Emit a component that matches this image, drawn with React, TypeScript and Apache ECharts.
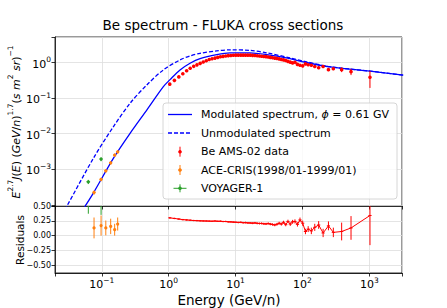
import React, { useEffect, useRef } from 'react';
import * as echarts from 'echarts';

// ---- Model curves ----
const modE = [0.05, 0.0563, 0.0748, 0.149, 0.265, 0.471, 0.834, 1.05, 1.48, 2.09, 2.95, 5.24, 8.27, 16.5, 29.3, 65.3, 103, 259, 1024, 3222];
const modJ = [6.5e-5, 9.1e-5, 2.14e-4, 2.03e-3, 1.03e-2, 0.0465, 0.211, 0.332, 0.623, 0.962, 1.30, 1.68, 1.88, 1.88, 1.68, 1.30, 1.05, 0.757, 0.573, 0.442];
const unmodE = [0.028, 0.030, 0.0748, 0.149, 0.265, 0.471, 0.834, 1.48, 2.09, 2.95, 5.24, 8.27, 16.5, 29.3, 65.3, 103, 259, 1024, 3222];
const unmodJ = [7.2e-5, 9.1e-5, 2.03e-3, 0.0157, 0.0718, 0.235, 0.623, 1.19, 1.54, 1.82, 2.14, 2.28, 2.21, 1.88, 1.36, 1.10, 0.767, 0.576, 0.444];

// ---- AMS-02 Be data ----
const amsE = [1.04, 1.22, 1.42, 1.63, 1.86, 2.10, 2.37, 2.65, 2.96, 3.29, 3.65, 4.04, 4.46, 4.93, 5.42, 5.95, 6.52, 7.13, 7.80, 8.51, 9.28, 10.1, 11.0, 12.0, 13.0, 14.1, 15.3, 16.6, 18.0, 19.5, 21.1, 22.8, 24.6, 26.5, 28.6, 30.8, 33.2, 35.8, 38.6, 41.6, 44.9, 48.4, 52.2, 56.3, 60.8, 65.8, 71.3, 77.4, 84.3, 92.0, 101, 111, 122, 136, 153, 175, 204, 245, 290, 386, 533, 1024];
const amsFlux = [0.248, 0.317, 0.396, 0.487, 0.591, 0.695, 0.787, 0.867, 0.955, 1.04, 1.13, 1.22, 1.28, 1.34, 1.40, 1.46, 1.50, 1.54, 1.57, 1.58, 1.61, 1.62, 1.62, 1.62, 1.62, 1.62, 1.62, 1.62, 1.60, 1.58, 1.56, 1.54, 1.51, 1.49, 1.47, 1.44, 1.40, 1.37, 1.34, 1.31, 1.27, 1.22, 1.19, 1.15, 1.08, 1.03, 0.98, 1.02, 0.89, 0.845, 0.81, 0.92, 0.87, 0.845, 0.78, 0.72, 0.78, 0.635, 0.673, 0.635, 0.557, 0.388];
const amsRelErr = [0.015, 0.012, 0.012, 0.012, 0.012, 0.012, 0.012, 0.012, 0.012, 0.012, 0.012, 0.012, 0.012, 0.012, 0.012, 0.012, 0.012, 0.012, 0.012, 0.013, 0.013, 0.013, 0.014, 0.014, 0.014, 0.015, 0.015, 0.015, 0.016, 0.016, 0.017, 0.017, 0.018, 0.018, 0.019, 0.02, 0.02, 0.021, 0.022, 0.023, 0.024, 0.025, 0.026, 0.027, 0.029, 0.031, 0.033, 0.035, 0.037, 0.04, 0.043, 0.046, 0.05, 0.055, 0.06, 0.065, 0.07, 0.075, 0.08, 0.15, 0.2, 0.5];
const amsRes = [0.30, 0.29, 0.28, 0.27, 0.265, 0.26, 0.255, 0.253, 0.25, 0.248, 0.247, 0.245, 0.243, 0.247, 0.242, 0.243, 0.238, 0.239, 0.233, 0.232, 0.228, 0.226, 0.222, 0.225, 0.218, 0.22, 0.215, 0.214, 0.21, 0.215, 0.208, 0.205, 0.206, 0.20, 0.198, 0.205, 0.195, 0.188, 0.18, 0.192, 0.21, 0.195, 0.225, 0.185, 0.24, 0.195, 0.233, 0.24, 0.19, 0.265, 0.21, 0.07, 0.11, 0.08, 0.14, 0.18, 0.045, 0.165, 0.055, 0.07, 0.13, 0.34];

// ---- ACE-CRIS ----
const aceE = [0.0767, 0.0977, 0.115, 0.136, 0.156, 0.173];
const aceFlux = [2.23e-4, 5.19e-4, 9.08e-4, 1.52e-3, 2.51e-3, 3.11e-3];
const aceErr = [0.3e-4, 0.6e-4, 1.0e-4, 1.7e-4, 2.8e-4, 3.5e-4];
const aceRes = [0.13, 0.17, 0.13, 0.156, 0.10, 0.196];
const aceResErr = [0.176, 0.17, 0.125, 0.13, 0.1, 0.11];

// ---- VOYAGER-1 ----
const voyE = [0.063, 0.0977];
const voyEErr = [0.004, 0.005];
const voyFlux = [4.45e-4, 1.94e-3];
const voyErr = [0.6e-4, 0.25e-3];
const voyRes = [0.72, 0.78];
const voyResErr = [0.35, 0.43];

// ---- Axis ticks ----
const resTicks = [-0.5, -0.25, 0, 0.25, 0.5];
const resTickLabels = ['\u22120.50', '\u22120.25', '0.00', '0.25', '0.50'];

const RED = '#ff0000';
const ORANGE = '#ff7f0e';
const GREEN = '#2ca02c';
const BLUE = '#0000ff';
const FONT = 'DejaVu Sans';

const supRich = {
  b: { fontSize: 11, fontFamily: FONT, color: '#000', lineHeight: 14, verticalAlign: 'bottom' },
  s: { fontSize: 7.5, fontFamily: FONT, color: '#000', lineHeight: 14, verticalAlign: 'top' },
};

function expLabel(v: number, minExp: number) {
  const l = Math.log10(v);
  const e = Math.round(l);
  if (Math.abs(l - e) > 1e-6 || e < minExp) return '';
  return `{b|10}{s|${e < 0 ? '\u2212' + -e : e}}`;
}

function errRender(color: string, isLog: boolean, marker: 'dot' | 'plus', r: number, capX: number) {
  return (params: any, api: any) => {
    const x = api.value(0) as number;
    const y = api.value(1) as number;
    const e = api.value(2) as number;
    const xe = api.value(3) as number;
    const c = api.coord([x, y]);
    const yt = api.coord([x, y + e])[1];
    const lo = isLog ? (y - e > 0 ? y - e : y * 1e-3) : y - e;
    const yb = api.coord([x, lo])[1];
    const children: any[] = [
      { type: 'line', shape: { x1: c[0], y1: yt, x2: c[0], y2: yb }, style: { stroke: color, lineWidth: 1 } },
    ];
    if (xe && xe > 0) {
      const xl = api.coord([x - xe, y])[0];
      const xr = api.coord([x + xe, y])[0];
      children.push({ type: 'line', shape: { x1: xl, y1: c[1], x2: xr, y2: c[1] }, style: { stroke: color, lineWidth: 1 } });
    } else if (capX > 0) {
      children.push({ type: 'line', shape: { x1: c[0] - capX, y1: c[1], x2: c[0] + capX, y2: c[1] }, style: { stroke: color, lineWidth: 1 } });
    }
    if (marker === 'dot') {
      children.push({ type: 'circle', shape: { cx: c[0], cy: c[1], r }, style: { fill: color } });
    }
    return { type: 'group', children };
  };
}

export default function App() {
  const ref = useRef<HTMLDivElement>(null);
  useEffect(() => {
    if (!ref.current) return;
    const chart = echarts.init(ref.current, undefined, { renderer: 'svg' });

    const xCommon = {
      type: 'log',
      logBase: 10,
      min: 0.02,
      max: 3083,
      axisLine: { show: true, onZero: false, lineStyle: { color: '#000', width: 0.8 } },
      axisTick: { show: true, inside: false, length: 3.5, lineStyle: { color: '#000', width: 0.8 } },
      splitLine: { show: true, lineStyle: { color: '#dddddd', width: 0.8 } },
      minorTick: { show: false },
    };

    const legendRows = [114.5, 133, 151.7, 170, 188.3];
    const textStyleBase = { fontSize: 11, fontFamily: FONT, fill: '#000' };

    const option: any = {
      animation: false,
      backgroundColor: '#fff',
      grid: [
        { left: 55, right: 45, top: 37, bottom: 102, show: true, borderColor: '#000', borderWidth: 0.8, backgroundColor: 'transparent' },
        { left: 55, right: 45, top: 206, bottom: 35, show: true, borderColor: '#000', borderWidth: 0.8, backgroundColor: 'transparent' },
      ],
      xAxis: [
        { ...xCommon, gridIndex: 0, axisLabel: { show: false } },
        {
          ...xCommon,
          gridIndex: 1,
          axisLabel: { show: true, margin: 3, formatter: (v: number) => expLabel(v, -10), rich: supRich },
        },
      ],
      yAxis: [
        {
          type: 'log',
          logBase: 10,
          gridIndex: 0,
          min: 9.3e-5,
          max: 5.25,
          axisLine: { show: true, lineStyle: { color: '#000', width: 0.8 } },
          axisTick: { show: true, inside: false, length: 3.5, lineStyle: { color: '#000', width: 0.8 } },
          splitLine: { show: true, lineStyle: { color: '#dddddd', width: 0.8 } },
          axisLabel: { show: true, margin: 4, formatter: (v: number) => expLabel(v, -3), rich: supRich },
        },
        {
          type: 'value',
          gridIndex: 1,
          min: -0.63,
          max: 0.5,
          axisLine: { show: true, lineStyle: { color: '#000', width: 0.8 } },
          axisTick: { show: true, inside: false, length: 3.5, customValues: resTicks, lineStyle: { color: '#000', width: 0.8 } },
          splitLine: { show: true, lineStyle: { color: '#dddddd', width: 0.8 } },
          axisLabel: {
            show: true,
            margin: 4,
            customValues: resTicks,
            fontSize: 8,
            fontFamily: FONT,
            color: '#000',
            formatter: (v: number) => {
              const i = resTicks.findIndex((t) => Math.abs(t - v) < 1e-9);
              return i >= 0 ? resTickLabels[i] : '';
            },
          },
        },
      ],
      series: [
        {
          type: 'line',
          xAxisIndex: 0,
          yAxisIndex: 0,
          data: modE.map((e, i) => [e, modJ[i]]),
          showSymbol: false,
          smooth: 0.3,
          lineStyle: { color: BLUE, width: 1.3 },
          z: 3,
        },
        {
          type: 'line',
          xAxisIndex: 0,
          yAxisIndex: 0,
          data: unmodE.map((e, i) => [e, unmodJ[i]]),
          showSymbol: false,
          smooth: 0.3,
          lineStyle: { color: BLUE, width: 1.3, type: [4, 2] },
          z: 3,
        },
        {
          type: 'custom',
          xAxisIndex: 0,
          yAxisIndex: 0,
          clip: true,
          data: amsE.map((e, i) => [e, amsFlux[i], amsFlux[i] * amsRelErr[i], 0]),
          encode: { x: 0, y: 1 },
          renderItem: errRender(RED, true, 'dot', 1.8, 0),
          z: 4,
        },
        {
          type: 'custom',
          xAxisIndex: 0,
          yAxisIndex: 0,
          clip: true,
          data: aceE.map((e, i) => [e, aceFlux[i], aceErr[i], 0]),
          encode: { x: 0, y: 1 },
          renderItem: errRender(ORANGE, true, 'dot', 1.6, 1.5),
          z: 4,
        },
        {
          type: 'custom',
          xAxisIndex: 0,
          yAxisIndex: 0,
          clip: true,
          data: voyE.map((e, i) => [e, voyFlux[i], voyErr[i], voyEErr[i]]),
          encode: { x: 0, y: 1 },
          renderItem: errRender(GREEN, true, 'dot', 1.6, 0),
          z: 4,
        },
        {
          type: 'line',
          xAxisIndex: 1,
          yAxisIndex: 1,
          data: amsE.map((e, i) => [e, amsRes[i]]),
          showSymbol: false,
          lineStyle: { color: RED, width: 1 },
          z: 3,
        },
        {
          type: 'custom',
          xAxisIndex: 1,
          yAxisIndex: 1,
          clip: true,
          data: amsE.map((e, i) => [e, amsRes[i], Math.max(amsRelErr[i], 0.006), 0]),
          encode: { x: 0, y: 1 },
          renderItem: errRender(RED, false, 'plus', 0, 1.6),
          z: 4,
        },
        {
          type: 'custom',
          xAxisIndex: 1,
          yAxisIndex: 1,
          clip: true,
          data: aceE.map((e, i) => [e, aceRes[i], aceResErr[i], 0]),
          encode: { x: 0, y: 1 },
          renderItem: errRender(ORANGE, false, 'dot', 1.6, 0),
          z: 4,
        },
        {
          type: 'custom',
          xAxisIndex: 1,
          yAxisIndex: 1,
          clip: true,
          data: voyE.map((e, i) => [e, voyRes[i], voyResErr[i], 0]),
          encode: { x: 0, y: 1 },
          renderItem: errRender(GREEN, false, 'dot', 1.6, 0),
          z: 4,
        },
      ],
      graphic: [
        {
          type: 'text',
          x: 223,
          y: 25,
          z: 100,
          style: { text: 'Be spectrum - FLUKA cross sections', fontSize: 13.5, fontFamily: FONT, fill: '#000', align: 'center', verticalAlign: 'middle' },
        },
        {
          type: 'text',
          x: 229,
          y: 300,
          z: 100,
          style: { text: 'Energy (GeV/n)', fontSize: 13.5, fontFamily: FONT, fill: '#000', align: 'center', verticalAlign: 'middle' },
        },
        {
          type: 'text',
          x: 20,
          y: 240,
          rotation: Math.PI / 2,
          z: 100,
          style: { text: 'Residuals', fontSize: 10.5, fontFamily: FONT, fill: '#000', align: 'center', verticalAlign: 'middle' },
        },
        {
          type: 'text',
          x: 14,
          y: 122,
          rotation: Math.PI / 2,
          z: 100,
          style: {
            text: '{i|E}{s|2.7}{i|J}{n|(}{i|E}{n|)} {n|(}{i|GeV}{n|/}{i|n}{n|)}{s|1.7}{n|(}{i|s m}{s|2}{i| sr}{n|)}{s|\u22121}',
            align: 'center',
            verticalAlign: 'middle',
            rich: {
              i: { fontSize: 11, fontFamily: FONT, fontStyle: 'italic', fill: '#000', lineHeight: 15, verticalAlign: 'bottom' },
              n: { fontSize: 11, fontFamily: FONT, fill: '#000', lineHeight: 15, verticalAlign: 'bottom' },
              s: { fontSize: 7.5, fontFamily: FONT, fill: '#000', lineHeight: 15, verticalAlign: 'top' },
            },
          },
        },
        {
          type: 'rect',
          z: 90,
          shape: { x: 163, y: 103, width: 234, height: 96, r: 3 },
          style: { fill: 'rgba(255,255,255,0.8)', stroke: '#cccccc', lineWidth: 0.8 },
        },
        { type: 'line', z: 101, shape: { x1: 168, y1: legendRows[0], x2: 192, y2: legendRows[0] }, style: { stroke: BLUE, lineWidth: 1.3 } },
        { type: 'line', z: 101, shape: { x1: 168, y1: legendRows[1], x2: 192, y2: legendRows[1] }, style: { stroke: BLUE, lineWidth: 1.3, lineDash: [4, 2] } },
        { type: 'line', z: 101, shape: { x1: 180, y1: legendRows[2] - 5, x2: 180, y2: legendRows[2] + 5 }, style: { stroke: RED, lineWidth: 1 } },
        { type: 'circle', z: 101, shape: { cx: 180, cy: legendRows[2], r: 1.8 }, style: { fill: RED } },
        { type: 'line', z: 101, shape: { x1: 180, y1: legendRows[3] - 5, x2: 180, y2: legendRows[3] + 5 }, style: { stroke: ORANGE, lineWidth: 1 } },
        { type: 'line', z: 101, shape: { x1: 178.5, y1: legendRows[3], x2: 181.5, y2: legendRows[3] }, style: { stroke: ORANGE, lineWidth: 1 } },
        { type: 'circle', z: 101, shape: { cx: 180, cy: legendRows[3], r: 1.8 }, style: { fill: ORANGE } },
        { type: 'line', z: 101, shape: { x1: 180, y1: legendRows[4] - 4, x2: 180, y2: legendRows[4] + 4 }, style: { stroke: GREEN, lineWidth: 1 } },
        { type: 'line', z: 101, shape: { x1: 173.5, y1: legendRows[4], x2: 186.5, y2: legendRows[4] }, style: { stroke: GREEN, lineWidth: 1 } },
        { type: 'circle', z: 101, shape: { cx: 180, cy: legendRows[4], r: 1.8 }, style: { fill: GREEN } },
        {
          type: 'text',
          z: 101,
          x: 201,
          y: legendRows[0],
          style: {
            text: '{t|Modulated spectrum, }{i|\u03d5}{t| = 0.61 GV}',
            verticalAlign: 'middle',
            rich: {
              t: { ...textStyleBase },
              i: { ...textStyleBase, fontStyle: 'italic' },
            },
          },
        },
        { type: 'text', z: 101, x: 201, y: legendRows[1], style: { ...textStyleBase, text: 'Unmodulated spectrum', verticalAlign: 'middle' } },
        { type: 'text', z: 101, x: 201, y: legendRows[2], style: { ...textStyleBase, text: 'Be AMS-02 data', verticalAlign: 'middle' } },
        { type: 'text', z: 101, x: 201, y: legendRows[3], style: { ...textStyleBase, text: 'ACE-CRIS(1998/01-1999/01)', verticalAlign: 'middle' } },
        { type: 'text', z: 101, x: 201, y: legendRows[4], style: { ...textStyleBase, text: 'VOYAGER-1', verticalAlign: 'middle' } },
      ],
    };

    chart.setOption(option);
    return () => chart.dispose();
  }, []);

  return <div ref={ref} style={{ width: 447, height: 308, position: 'absolute', left: 0, top: 0 }} />;
}
